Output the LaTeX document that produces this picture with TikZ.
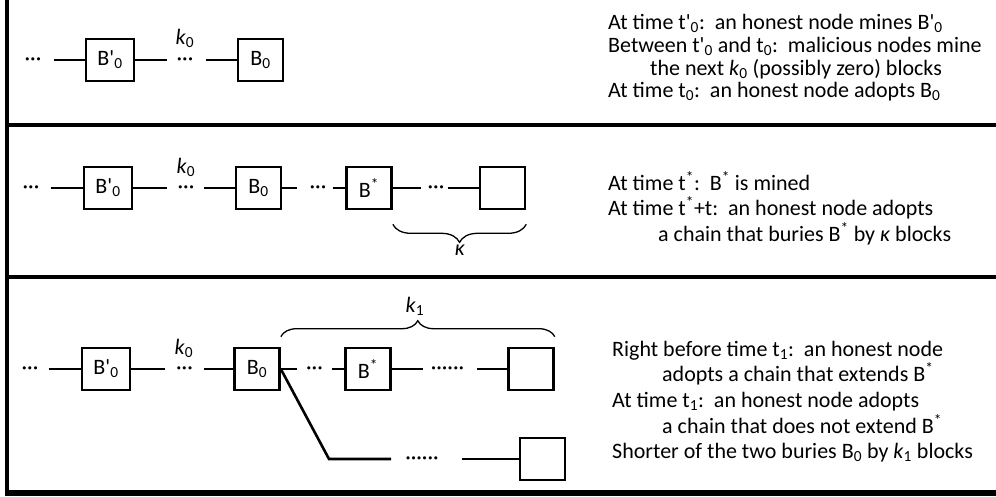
\documentclass[tikz,border=0pt]{standalone}
\usepackage{fontspec}
\setmainfont{Carlito}
\usepackage{tikz}
\usetikzlibrary{positioning}
\usetikzlibrary{decorations.pathreplacing}
\newcommand{\kidx}[1]{\textit{k}\textsubscript{#1}}
\newcommand{\apo}{\textquotesingle}

\begin{document}
\begin{tikzpicture}[x=1pt,y=-1pt,font=\fontsize{22}{26}\selectfont]
\tikzstyle{blk}=[rectangle,draw,line width=2.6pt,minimum width=45pt,minimum height=42pt,inner sep=0pt]
\tikzstyle{dots}=[inner sep=0pt,text height=10.5pt,text depth=0pt]
\tikzstyle{lnk}=[line width=2.6pt]
\tikzstyle{txt}=[anchor=base west,inner sep=0pt]
\tikzstyle{lbl}=[anchor=base,inner sep=0pt]
\tikzstyle{frame}=[line width=4pt]
\tikzstyle{brc}=[line width=1.3pt,decorate]
\useasboundingbox (0,0) rectangle (996,496);

% frame of the three panels
\draw[frame] (7,0) -- (7,496);
\draw[frame] (5,125) -- (996,125);
\draw[frame] (5,276.5) -- (996,276.5);
\draw[line width=6pt] (5,493) -- (996,493);

% panel 1
\node[dots] (p1d1) at (33,60) {···};
\node[blk,minimum width=48pt] (p1bp) at (110,60) {B\apo\textsubscript{0}};
\node[dots] (p1d2) at (185,60) {···};
\node[blk] (p1b0) at (260.5,60) {B\textsubscript{0}};
\node[lbl] (p1k) at (185,44) {\kidx{0}};
\draw[lnk,shorten <=12pt] (p1d1.east) -- (p1bp.west);
\draw[lnk,shorten >=9pt] (p1bp.east) -- (p1d2.west);
\draw[lnk,shorten <=12pt] (p1d2.east) -- (p1b0.west);

\node[txt] (p1t1) at (608,29) {At time t\apo\textsubscript{0}:\ \ an honest node mines B\apo\textsubscript{0}};
\node[txt] (p1t2) at (608,52) {Between t\apo\textsubscript{0} and t\textsubscript{0}:\ \ malicious nodes mine};
\node[txt] (p1t3) at (650,75) {the next \kidx{0} (possibly zero) blocks};
\node[txt] (p1t4) at (608,97) {At time t\textsubscript{0}:\ \ an honest node adopts B\textsubscript{0}};

% panel 2
\node[dots] (p2d1) at (31,188) {···};
\node[blk,minimum width=48pt] (p2bp) at (108,188) {B\apo\textsubscript{0}};
\node[dots] (p2d2) at (186,188) {···};
\node[blk] (p2b0) at (258.5,188) {B\textsubscript{0}};
\node[dots] (p2d3) at (318,188) {···};
\node[blk] (p2bs) at (369,188) {B\textsuperscript{*}};
\node[dots] (p2d4) at (436,188) {···};
\node[blk] (p2be) at (502.5,188) {};
\node[lbl] (p2k) at (186,173) {\kidx{0}};
\draw[lnk,shorten <=11pt] (p2d1.east) -- (p2bp.west);
\draw[lnk,shorten >=10pt] (p2bp.east) -- (p2d2.west);
\draw[lnk,shorten <=9pt] (p2d2.east) -- (p2b0.west);
\draw[lnk,shorten >=12pt] (p2b0.east) -- (p2d3.west);
\draw[lnk,shorten <=6pt] (p2d3.east) -- (p2bs.west);
\draw[lnk,shorten >=6pt] (p2bs.east) -- (p2d4.west);
\draw[lnk,shorten <=3pt] (p2d4.east) -- (p2be.west);
\draw[brc,decoration={brace,mirror,amplitude=18pt}] ([yshift=-14pt]p2bs.south east) -- ([yshift=-14pt]p2be.south east);
\node[lbl] (p2kap) at (460,255) {\textit{κ}};

\node[txt] (p2t1) at (608,190) {At time t\textsuperscript{*}:\ \ B\textsuperscript{*} is mined};
\node[txt] (p2t2) at (608,215) {At time t\textsuperscript{*}+t:\ \ an honest node adopts};
\node[txt] (p2t3) at (658,241) {a chain that buries B\textsuperscript{*} by \textit{κ} blocks};

% panel 3
\node[dots] (p3d1) at (30,369) {···};
\node[blk,minimum width=48pt] (p3bp) at (106,369) {B\apo\textsubscript{0}};
\node[dots] (p3d2) at (184.5,369) {···};
\node[blk] (p3b0) at (257,369) {B\textsubscript{0}};
\node[dots] (p3d3) at (314.5,369) {···};
\node[blk] (p3bs) at (368,369) {B\textsuperscript{*}};
\node[dots] (p3d4) at (447.5,369) {······};
\node[blk] (p3be) at (531,369) {};
\coordinate (p3kink) at (329,459);
\node[dots] (p3d5) at (422,459) {······};
\node[blk] (p3bl) at (542.5,459) {};
\node[lbl] (p3k0) at (184,354) {\kidx{0}};
\draw[lnk,shorten <=10pt] (p3d1.east) -- (p3bp.west);
\draw[lnk,shorten >=11pt] (p3bp.east) -- (p3d2.west);
\draw[lnk,shorten <=10.5pt] (p3d2.east) -- (p3b0.west);
\draw[lnk,shorten >=9pt] (p3b0.east) -- (p3d3.west);
\draw[lnk,shorten <=9pt] (p3d3.east) -- (p3bs.west);
\draw[lnk,shorten >=8pt] (p3bs.east) -- (p3d4.west);
\draw[lnk,shorten <=13pt] (p3d4.east) -- (p3be.west);
\draw[lnk,shorten >=14pt] (p3b0.east) -- (p3kink) -- (p3d5.west);
\draw[lnk,shorten <=23pt] (p3d5.east) -- (p3bl.west);
\draw[brc,decoration={brace,amplitude=16pt}] ([yshift=10pt]p3b0.north east) -- ([yshift=10pt]p3be.north east);
\node[lbl] (p3k1) at (415,312) {\kidx{1}};

\node[txt] (p3t1) at (612,356) {Right before time t\textsubscript{1}:\ \ an honest node};
\node[txt] (p3t2) at (662,381) {adopts a chain that extends B\textsuperscript{*}};
\node[txt] (p3t3) at (612,407) {At time t\textsubscript{1}:\ \ an honest node adopts};
\node[txt] (p3t4) at (662,433) {a chain that does not extend B\textsuperscript{*}};
\node[txt] (p3t5) at (612,458) {Shorter of the two buries B\textsubscript{0} by \kidx{1} blocks};
\end{tikzpicture}
\end{document}
